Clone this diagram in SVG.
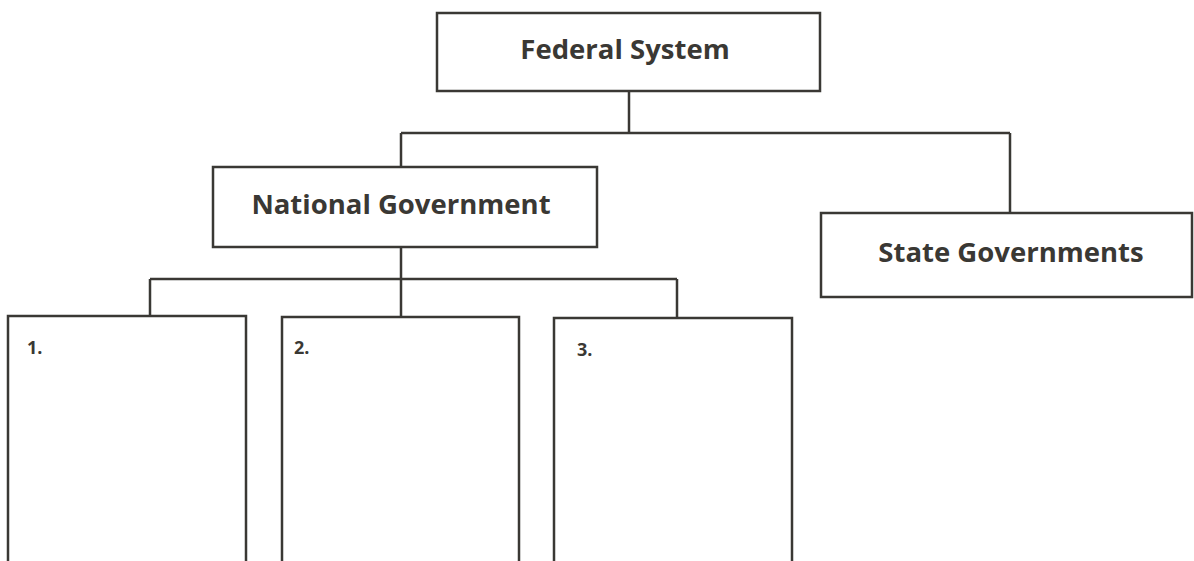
<svg xmlns="http://www.w3.org/2000/svg" width="1194" height="561" viewBox="0 0 1194 561">
<style>
.box{fill:#ffffff;stroke:#3a3834;stroke-width:2.5}
.ln{fill:none;stroke:#3a3834;stroke-width:2.5}
.t{font-family:"Open Sans","Noto Sans",sans-serif;font-weight:bold;fill:#3a3834;font-size:27.5px}
.n{font-family:"Open Sans","Noto Sans",sans-serif;font-weight:bold;fill:#3a3834;font-size:18px}
</style>
<rect width="1194" height="561" fill="#ffffff"/>
<g id="connectors">
<path class="ln" d="M629 91 V133 M401 133 H1010 M401 133 V167 M1010 133 V213"/>
<path class="ln" d="M401 247 V317 M150 279 H677 M150 279 V317 M677 279 V317"/>
</g>
<g id="federal">
<rect class="box" x="437" y="13" width="383" height="78"/>
<text class="t" x="625" y="59" text-anchor="middle">Federal System</text>
</g>
<g id="national">
<rect class="box" x="213" y="167" width="384" height="80"/>
<text class="t" x="401" y="214" text-anchor="middle">National Government</text>
</g>
<g id="state">
<rect class="box" x="821" y="213" width="371" height="84"/>
<text class="t" x="1011" y="262" text-anchor="middle">State Governments</text>
</g>
<g id="box1">
<rect class="box" x="8" y="316" width="238" height="260"/>
<text class="n" x="27" y="354">1.</text>
</g>
<g id="box2">
<rect class="box" x="282" y="317" width="237" height="260"/>
<text class="n" x="294" y="354">2.</text>
</g>
<g id="box3">
<rect class="box" x="554" y="318" width="238" height="260"/>
<text class="n" x="577" y="356">3.</text>
</g>
</svg>
